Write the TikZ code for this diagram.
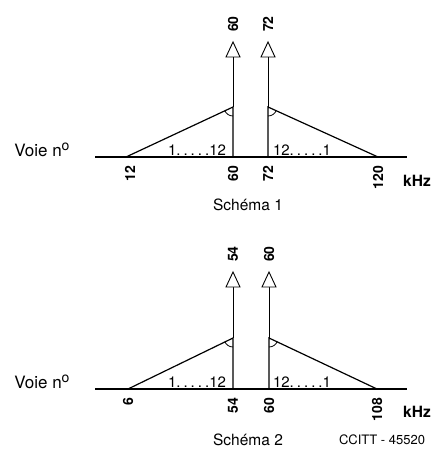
\documentclass[tikz,border=0pt]{standalone}
\usepackage{fontspec}
\setmainfont{TeX Gyre Heros}
\newcommand{\chdots}{.\hspace{3pt}.\hspace{3pt}.\hspace{3pt}.\hspace{3pt}.}
\newcommand{\voieno}{Voie n\raisebox{5.5pt}{\fontsize{14}{14}\selectfont o}}
\begin{document}
\begin{tikzpicture}[x=1pt,y=-1pt,
  axis/.style={line width=1.3pt},
  tri/.style={line width=1.2pt,line join=miter},
  carrier/.style={line width=0.9pt},
  head/.style={line width=0.9pt,fill=white},
  lbl/.style={font=\fontsize{15.5}{15.5}\selectfont,inner sep=0pt},
  voie/.style={font=\fontsize{17}{17}\selectfont,inner sep=0pt},
  chan/.style={font=\fontsize{15}{15}\selectfont,inner sep=0pt},
  tick/.style={font=\fontsize{14}{14}\selectfont\bfseries,inner sep=0pt,rotate=90,anchor=east},
  top/.style={font=\fontsize{14}{14}\selectfont\bfseries,inner sep=0pt,rotate=90,anchor=west},
  unit/.style={font=\fontsize{15.5}{15.5}\selectfont\bfseries,inner sep=0pt},
  anglemark/.style={line width=0.8pt}]
\useasboundingbox (0,0) rectangle (433,452);

% ---------- Schema 1 ----------
\begin{scope}
\coordinate (a0) at (95,157);
\coordinate (a1) at (407,157);
\coordinate (l0) at (126,157);
\coordinate (lb) at (233,157);
\coordinate (lp) at (233,107);
\coordinate (la) at (233,57);
\coordinate (rb) at (268,157);
\coordinate (rp) at (268,107);
\coordinate (ra) at (268,57);
\coordinate (r1) at (378,157);
\draw[axis] (a0) -- (a1);
\draw[tri] (l0) -- (lp) -- (lb);
\draw[tri] (r1) -- (rp) -- (rb);
\draw[carrier] (lp) -- (la);
\draw[carrier] (rp) -- (ra);
\draw[head] (la) ++(-7,0) -- ++(7,-15) -- ++(7,15) -- cycle;
\draw[head] (ra) ++(-7,0) -- ++(7,-15) -- ++(7,15) -- cycle;
\draw[anglemark] (lp) ++(155:9) arc[start angle=155,end angle=90,radius=9];
\draw[anglemark] (rp) ++(25:9) arc[start angle=25,end angle=90,radius=9];
\node[top] (t60) at (233,32) {60};
\node[top] (t72) at (268,32) {72};
\node[tick] (x12) at (130,166) {12};
\node[tick] (x60) at (233,166) {60};
\node[tick] (x72) at (268,166) {72};
\node[tick] (x120) at (378,166) {120};
\node[unit] (khz1) at (417,181) {kHz};
\node[voie] (voie1) at (42,150) {\voieno};
\node[chan] (ch1l) at (197,150) {1\chdots12};
\node[chan] (ch1r) at (302,150) {12\chdots1};
\node[lbl] (s1) at (248,205) {Schéma 1};
\end{scope}

% ---------- Schema 2 ----------
\begin{scope}
\coordinate (b0) at (95,389);
\coordinate (b1) at (407,389);
\coordinate (m0) at (128,389);
\coordinate (mb) at (233,389);
\coordinate (mp) at (233,338);
\coordinate (ma) at (233,287);
\coordinate (nb) at (269,389);
\coordinate (np) at (269,338);
\coordinate (na) at (269,287);
\coordinate (n1) at (377,389);
\draw[axis] (b0) -- (b1);
\draw[tri] (m0) -- (mp) -- (mb);
\draw[tri] (n1) -- (np) -- (nb);
\draw[carrier] (mp) -- (ma);
\draw[carrier] (np) -- (na);
\draw[head] (ma) ++(-7,0) -- ++(7,-15) -- ++(7,15) -- cycle;
\draw[head] (na) ++(-7,0) -- ++(7,-15) -- ++(7,15) -- cycle;
\draw[anglemark] (mp) ++(155:9) arc[start angle=155,end angle=90,radius=9];
\draw[anglemark] (np) ++(25:9) arc[start angle=25,end angle=90,radius=9];
\node[top] (t54) at (233,262) {54};
\node[top] (t60b) at (269,262) {60};
\node[tick] (y6) at (128,398) {6};
\node[tick] (y54) at (233,398) {54};
\node[tick] (y60) at (269,398) {60};
\node[tick] (y108) at (377,398) {108};
\node[unit] (khz2) at (417,412) {kHz};
\node[voie] (voie2) at (42,382) {\voieno};
\node[chan] (ch2l) at (197,382) {1\chdots12};
\node[chan] (ch2r) at (302,382) {12\chdots1};
\node[lbl] (s2) at (248,440) {Schéma 2};
\node[lbl,font=\fontsize{13}{13}\selectfont] (ref) at (382,440) {CCITT - 45520};
\end{scope}
\end{tikzpicture}
\end{document}
